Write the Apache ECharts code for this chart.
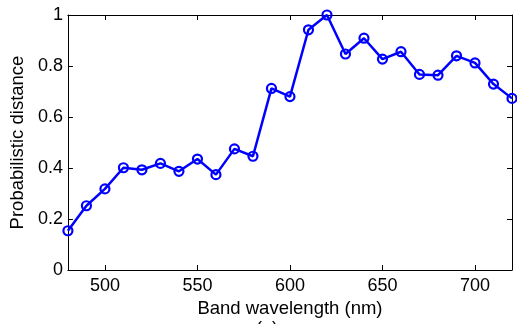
<!DOCTYPE html>
<html>
<head>
<meta charset="utf-8">
<script src="https://cdn.jsdelivr.net/npm/echarts@6/dist/echarts.min.js"></script>
<style>html,body{margin:0;padding:0;background:#fff}#c{width:517px;height:324px}</style>
</head>
<body>
<div id="c"></div>
<script>
const wavelengths = [480,490,500,510,520,530,540,550,560,570,580,590,600,610,620,630,640,650,660,670,680,690,700,710,720];
const distance = [0.154,0.252,0.318,0.401,0.393,0.418,0.387,0.435,0.374,0.475,0.446,0.712,0.680,0.942,1.0,0.847,0.909,0.827,0.856,0.767,0.764,0.840,0.812,0.729,0.673];
const xTicks = [500,550,600,650,700];
const yTicks = [0,0.2,0.4,0.6,0.8,1];

const font = '"Liberation Sans", Arial, Helvetica, sans-serif';
const chart = echarts.init(document.getElementById('c'));
const lineStyle = {color:'#000', width:1};
const tickBase = {show:true, inside:true, length:5, lineStyle:{color:'#000', width:1}};
chart.setOption({
  animation:false,
  grid:{left:66, right:5, top:15, bottom:54},
  xAxis:[{
    type:'value', min:480, max:720,
    axisLine:{show:true, onZero:false, lineStyle},
    axisTick:Object.assign({customValues:xTicks}, tickBase),
    splitLine:{show:false},
    axisLabel:{customValues:xTicks, color:'#000', fontFamily:font, fontSize:18, margin:7},
    name:'Band wavelength (nm)', nameLocation:'middle', nameGap:22,
    nameTextStyle:{color:'#000', fontFamily:font, fontSize:18.5}
  },{
    type:'value', position:'top', min:480, max:720,
    axisLine:{show:true, onZero:false, lineStyle},
    axisTick:Object.assign({customValues:xTicks}, tickBase),
    axisLabel:{show:false}, splitLine:{show:false}
  }],
  yAxis:[{
    type:'value', min:0, max:1, interval:0.2,
    axisLine:{show:true, onZero:false, lineStyle},
    axisTick:tickBase,
    splitLine:{show:false},
    axisLabel:{color:'#000', fontFamily:font, fontSize:18, margin:5,
      formatter:v=>{const t=yTicks.find(y=>Math.abs(y-v)<1e-9);return t===undefined?'':String(t);}},
    name:'Probabilistic distance', nameLocation:'middle', nameGap:36,
    nameTextStyle:{color:'#000', fontFamily:font, fontSize:18.5}
  },{
    type:'value', position:'right', min:0, max:1, interval:0.2,
    axisLine:{show:true, onZero:false, lineStyle},
    axisTick:tickBase, axisLabel:{show:false}, splitLine:{show:false}
  }],
  graphic:[{type:'text', left:256, top:320, style:{text:'(a)', font:'18px '+font, fill:'#000'}}],
  series:[{
    type:'line',
    data:wavelengths.map((w,i)=>[w,distance[i]]),
    symbol:'circle', symbolSize:9, showSymbol:true,
    lineStyle:{color:'#0000ff', width:2.5},
    itemStyle:{color:'rgba(0,0,0,0)', borderColor:'#0000ff', borderWidth:2.2},
    clip:false
  }]
});
</script>
</body>
</html>
